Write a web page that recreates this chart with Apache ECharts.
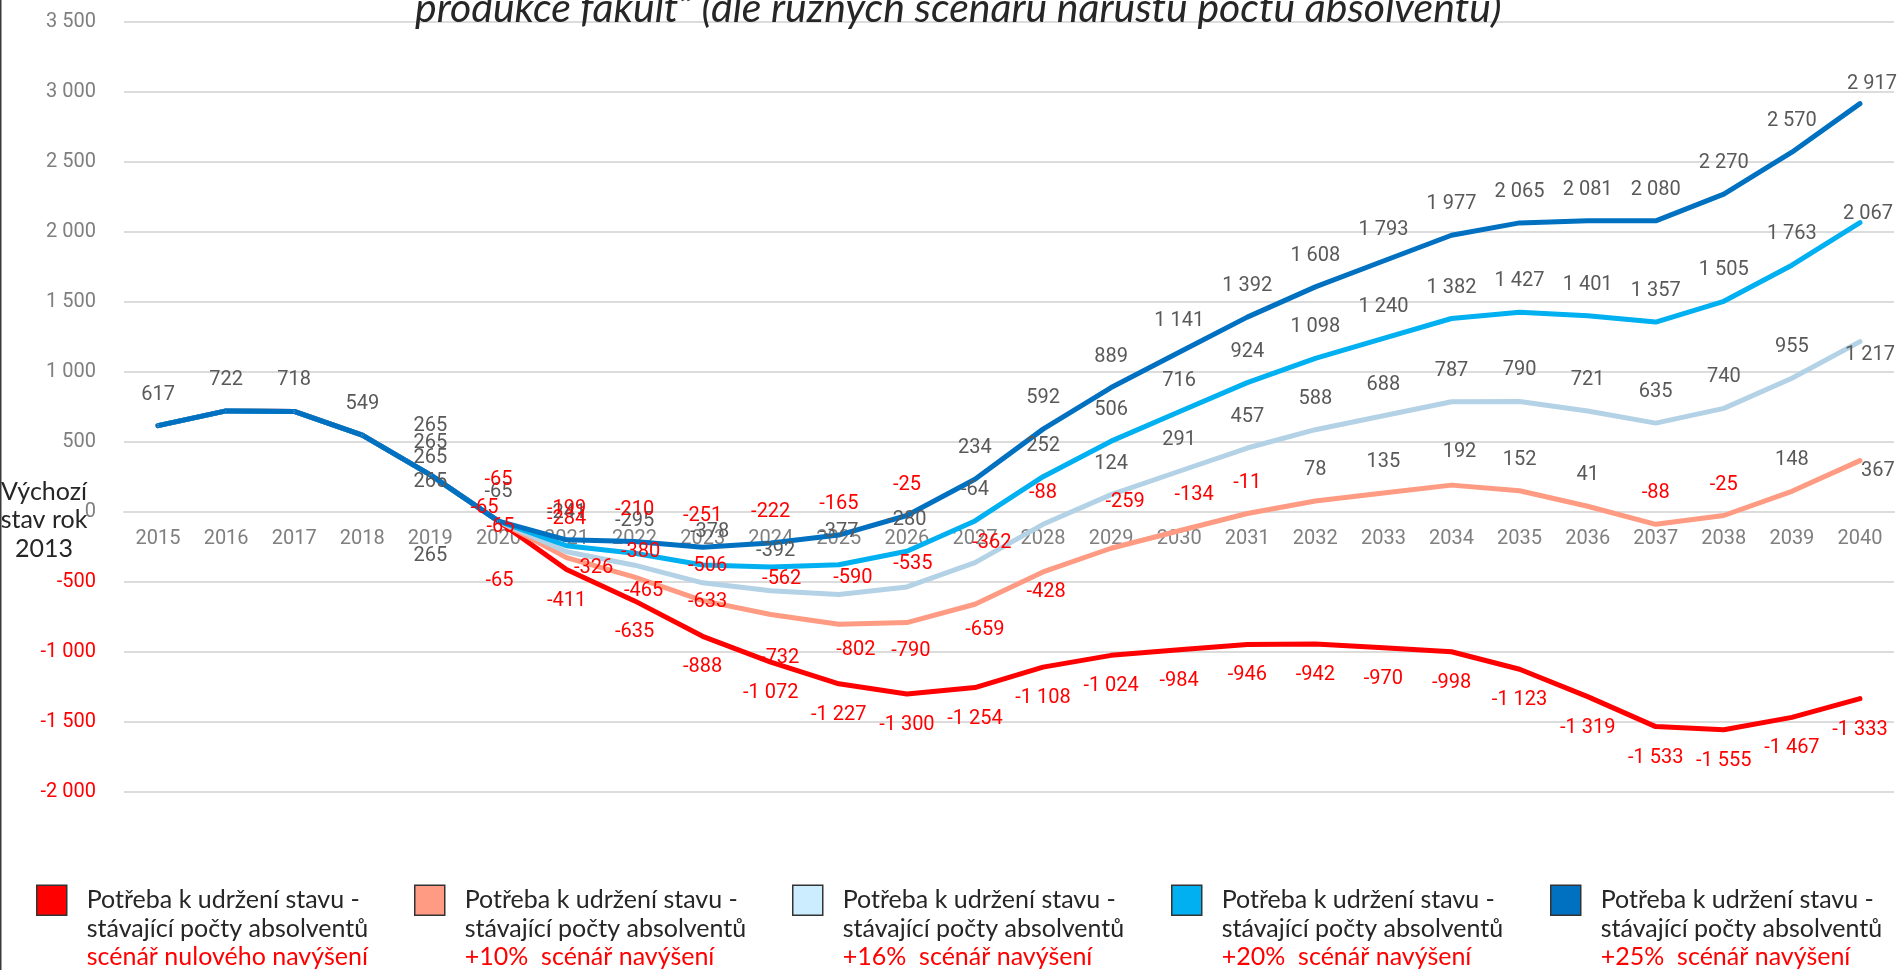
<!DOCTYPE html>
<html>
<head>
<meta charset="utf-8">
<title>Potřeba absolventů – scénáře</title>
<script src="https://cdn.jsdelivr.net/npm/echarts@6/dist/echarts.min.js"></script>
<style>
  html, body { margin: 0; padding: 0; background: #fff; }
  #chart { width: 1897px; height: 970px; }
</style>
</head>
<body>
<div id="chart"></div>
<script>
// roky na ose X
const years = ['2015', '2016', '2017', '2018', '2019', '2020', '2021', '2022', '2023', '2024', '2025', '2026', '2027',
  '2028', '2029', '2030', '2031', '2032', '2033', '2034', '2035', '2036', '2037', '2038', '2039', '2040']

// potřeba k udržení stavu pro jednotlivé scénáře
const nulove = [617, 722, 718, 549, 265, -65, -411, -635, -888, -1072, -1227, -1300, -1254,
  -1108, -1024, -984, -946, -942, -970, -998, -1123, -1319, -1533, -1555, -1467, -1333]
const plus10 = [617, 722, 718, 549, 265, -65, -326, -465, -633, -732, -802, -790, -659,
  -428, -259, -134, -11, 78, 135, 192, 152, 41, -88, -25, 148, 367]
const plus16 = [617, 722, 718, 549, 265, -65, -284, -380, -506, -562, -590, -535, -362,
  -88, 124, 291, 457, 588, 688, 787, 790, 721, 635, 740, 955, 1217]
const plus20 = [617, 722, 718, 549, 265, -65, -241, -295, -378, -392, -377, -280, -64,
  252, 506, 716, 924, 1098, 1240, 1382, 1427, 1401, 1357, 1505, 1763, 2067]
const plus25 = [617, 722, 718, 549, 265, -65, -199, -210, -251, -222, -165, -25, 234,
  592, 889, 1141, 1392, 1608, 1793, 1977, 2065, 2081, 2080, 2270, 2570, 2917]

// názvy scénářů (třetí řádek legendy)
const scenarioNames = ['scénář nulového navýšení', '+10%  scénář navýšení', '+16%  scénář navýšení',
  '+20%  scénář navýšení', '+25%  scénář navýšení']

// osa Y
const yMin = -2000
const yMax = 3500
const yStep = 500

const lineColors = ['#FF0000', '#FF9B82', '#B4D2E6', '#00B0F0', '#0070C0']
const legendColors = ['#FF0000', '#FF9B82', '#CCECFF', '#00B0F0', '#0070C0']
const legendLeft = [36, 414, 792, 1171, 1550]

// posun popisků vůči bodu [dx, dy] – výchozí a výjimky podle indexu roku
const labelDefault = [[0, 31], [0, -31], [0, -31], [0, -31], [0, -31]]
const labelShiftExtra = [
  {4: [0, 81], 5: [1, 60]},
  {4: [0, 7], 5: [2, 6], 6: [27, 10], 7: [9, 14], 8: [5, 1], 9: [9, 44], 10: [17, 26], 11: [4, 28],
    12: [10, 26], 13: [3, 20], 14: [14, -46], 15: [15, -36], 19: [8, -33], 25: [18, 10]},
  {4: [0, -17], 5: [-14, -13], 6: [0, -33], 7: [6, -13], 8: [5, -17], 9: [11, -12], 10: [14, -17],
    11: [6, -23], 12: [17, -20], 25: [10, 13]},
  {4: [0, -32], 5: [0, -29], 6: [0, -33], 7: [0, -32], 8: [7, -33], 9: [5, -16], 10: [0, -33], 25: [8, -9]},
  {4: [0, -49], 5: [0, -41], 25: [12, -20]}
]

const fmt = v => (v < 0 ? '-' : '') + Math.abs(v).toString().replace(/\B(?=(\d{3})+(?!\d))/g, ' ')

const gridTop = 22
const gridBottom = 178
const plotHeight = 970 - gridTop - gridBottom
// osa let leží na nule
const xAxisShift = -plotHeight * (0 - yMin) / (yMax - yMin)

const chart = echarts.init(document.getElementById('chart'))

const seriesValues = [nulove, plus10, plus16, plus20, plus25]

const series = seriesValues.map((vals, s) => ({
  name: scenarioNames[s],
  type: 'line',
  symbol: 'circle',
  symbolSize: 2,
  showAllSymbol: true,
  animation: false,
  lineStyle: {width: 5, color: lineColors[s], cap: 'round', join: 'round'},
  itemStyle: {color: lineColors[s]},
  emphasis: {disabled: true},
  label: {
    show: true,
    position: 'inside',
    fontFamily: 'Roboto',
    fontSize: 20,
    formatter: p => fmt(p.value)
  },
  data: vals.map((v, i) => ({
    value: v,
    label: {
      // roky 2015–2018 mají popisek jen jednou
      show: s === 4 || i > 3,
      offset: labelShiftExtra[s][i] || labelDefault[s],
      color: (v < 0 && s !== 3) ? '#FF0000' : '#595959'
    }
  }))
}))

const legends = scenarioNames.map((name, s) => ({
  left: legendLeft[s],
  top: 829,
  padding: 0,
  icon: 'rect',
  itemWidth: 30,
  itemHeight: 30,
  selectedMode: false,
  itemStyle: {borderColor: '#333333', borderWidth: 1.5},
  data: [{name: name, itemStyle: {color: legendColors[s]}}],
  formatter: n => '\n\n{a|Potřeba k udržení stavu -}\n{a|stávající počty absolventů}\n{b|' + n + '}',
  textStyle: {
    fontFamily: 'Lato',
    fontSize: 25,
    lineHeight: 28.5,
    padding: [0, 0, 0, 15],
    rich: {
      a: {fontFamily: 'Lato', fontSize: 25, lineHeight: 28.5, color: '#262626'},
      b: {fontFamily: 'Lato', fontSize: 25, lineHeight: 28.5, color: '#FF0000'}
    }
  }
}))

const option = {
  backgroundColor: '#ffffff',
  animation: false,
  title: {
    text: 'produkce fakult“ (dle různých scénářů nárůstu počtu absolventů)',
    left: 415,
    top: -12,
    padding: 0,
    textStyle: {
      fontFamily: 'Lato',
      fontStyle: 'italic',
      fontWeight: 'normal',
      fontSize: 41,
      lineHeight: 41,
      color: '#262626'
    }
  },
  legend: legends,
  grid: {left: 124, right: 3, top: gridTop, bottom: gridBottom, containLabel: false},
  xAxis: {
    type: 'category',
    data: years,
    boundaryGap: true,
    position: 'bottom',
    offset: xAxisShift,
    axisLine: {show: true, onZero: false, lineStyle: {color: '#DCDCDC', width: 2}},
    axisTick: {show: false},
    axisLabel: {
      interval: 0,
      margin: 17,
      fontFamily: 'Roboto',
      fontSize: 20,
      color: '#7F7F7F'
    }
  },
  yAxis: {
    type: 'value',
    min: yMin,
    max: yMax,
    interval: yStep,
    axisLine: {show: false},
    axisTick: {show: false},
    splitLine: {lineStyle: {color: '#DCDCDC', width: 2}},
    axisLabel: {
      margin: 28,
      fontFamily: 'Roboto',
      fontSize: 20,
      formatter: v => fmt(v),
      color: v => (v < 0 ? '#FF0000' : '#7F7F7F')
    }
  },
  graphic: [
    {
      type: 'rect',
      left: 0,
      top: 0,
      shape: {width: 1.5, height: 970},
      style: {fill: '#3A3A3A'}
    },
    {
      type: 'text',
      x: 44,
      y: 520,
      style: {
        text: 'Výchozí\nstav rok\n2013',
        align: 'center',
        verticalAlign: 'middle',
        fontFamily: 'Lato',
        fontSize: 25,
        lineHeight: 28.5,
        fill: '#262626'
      }
    }
  ],
  series: series
}

chart.setOption(option)
</script>
</body>
</html>
